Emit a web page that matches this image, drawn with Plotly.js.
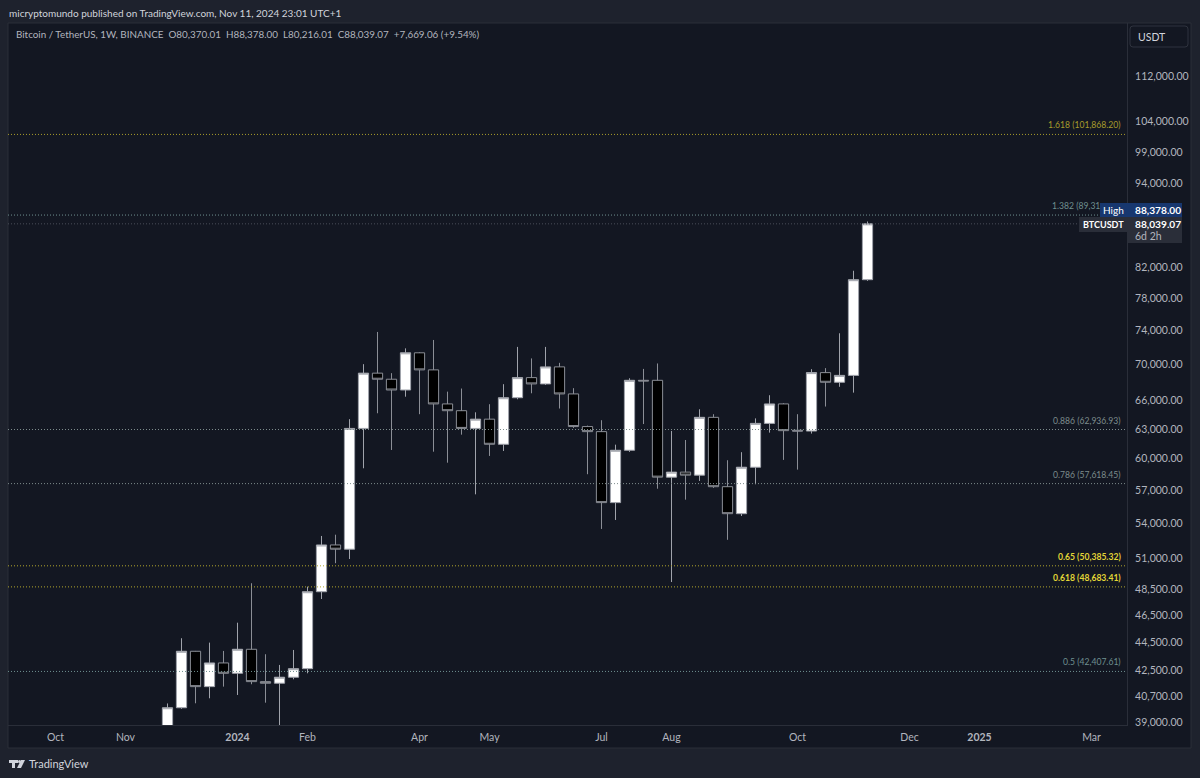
<!DOCTYPE html>
<html>
<head>
<meta charset="utf-8">
<script src="https://cdn.plot.ly/plotly-3.0.1.min.js"></script>
<style>html,body{margin:0;padding:0;background:#1e222d}</style>
</head>
<body>
<div id="chart" style="width:1200px;height:778px"></div>
<script>
// weekly candles
const dates = ['2023-11-27','2023-12-04','2023-12-11','2023-12-18','2023-12-25','2024-01-01','2024-01-08','2024-01-15','2024-01-22','2024-01-29',
  '2024-02-05','2024-02-12','2024-02-19','2024-02-26','2024-03-04','2024-03-11','2024-03-18','2024-03-25','2024-04-01','2024-04-08',
  '2024-04-15','2024-04-22','2024-04-29','2024-05-06','2024-05-13','2024-05-20','2024-05-27','2024-06-03','2024-06-10','2024-06-17',
  '2024-06-24','2024-07-01','2024-07-08','2024-07-15','2024-07-22','2024-07-29','2024-08-05','2024-08-12','2024-08-19','2024-08-26',
  '2024-09-02','2024-09-09','2024-09-16','2024-09-23','2024-09-30','2024-10-07','2024-10-14','2024-10-21','2024-10-28','2024-11-04','2024-11-11'];
const opens = [37450,39970,43827,41370,43000,42280,43970,41710,41600,42010,
  42600,48300,52130,51770,63050,69000,68320,67130,71330,69370,
  65620,64900,63050,64010,61440,66290,68500,67800,69710,66700,
  63240,62720,55860,60840,68200,68200,58230,58710,58420,64200,
  57330,54860,59180,63570,65620,62860,62780,69060,67980,68750,80370.01];
const highs = [40250,44770,43850,44450,43850,45920,48975,43615,42860,43920,
  48700,52900,53010,64010,70020,73800,69000,71850,71400,72840,
  66950,67290,64730,65590,67770,72020,70680,72020,70170,67330,
  63340,63900,61400,68430,69480,70100,62790,61870,65050,64530,
  59860,60650,64090,66560,65700,64530,69450,69570,73640,81550,88378];
const lows = [36800,39900,40260,40590,41370,40810,41530,40300,38500,41870,
  42280,47730,50600,50950,59080,64630,60870,66400,64530,60700,
  59620,62410,56620,60280,60770,66120,66770,67690,65130,63100,
  58510,53510,54300,60680,63500,57140,49070,56130,57870,57220,
  52570,54650,57560,62620,59890,58950,62520,65340,67480,66840,80216.01];
const closes = [39970,43827,41370,43000,42280,43970,41710,41600,42010,42600,
  48300,52130,51770,63050,69000,68320,67130,71330,69370,65620,
  64900,63050,64010,61440,66290,68500,67800,69710,66700,63240,
  62720,55860,60840,68200,68130,58230,58710,58420,64200,57330,
  54860,59180,63570,65620,62820,62780,69060,67980,68750,80370,88039.07];

// fib levels
const fibLevels = [101868.20, 89310, 62936.93, 57618.45, 50385.32, 48683.41, 42407.61];
const fibLabels = ['1.618 (101,868.20)', '1.382 (89,31', '0.886 (62,936.93)', '0.786 (57,618.45)', '<b>0.65 (50,385.32)</b>', '<b>0.618 (48,683.41)</b>', '0.5 (42,407.61)'];
const fibColors = ['#a89c2b', '#6f9090', '#7d8c8c', '#7d8c8c', '#e2d636', '#e2d636', '#6f9090'];
const fibLineColors = ['#a89c2b', '#6f9090', '#7d8c8c', '#7d8c8c', '#b0a52c', '#b0a52c', '#6f9090'];
const fibRight = [1123, 1102, 1123, 1123, 1123, 1123, 1123];

const priceTicks = [112000,104000,99000,94000,82000,78000,74000,70000,66000,63000,60000,57000,54000,51000,48500,46500,44500,42500,40700,39000];
const timeTicks = ['2023-10-02','2023-11-06','2024-01-01','2024-02-05','2024-04-01','2024-05-06','2024-07-01','2024-08-05','2024-10-07','2024-12-02','2025-01-06','2025-03-03'];
const timeLabels = ['Oct','Nov','<b>2024</b>','Feb','Apr','May','Jul','Aug','Oct','Dec','<b>2025</b>','Mar'];

const lastClose = 88039.07;
const xRange = ['2023-09-08 06:00', '2025-03-20 18:00'];

const FONT = 'Lato, "Noto Sans", sans-serif';
const L = 8, R = 1127, T = 23, B = 725;
const px = x => (x - L) / (R - L);
const py = y => (B - y) / (B - T);

function box(x0, y0, x1, y1, fill) {
  return {
    type: 'rect', xref: 'paper', yref: 'paper', layer: 'above',
    x0: px(x0), x1: px(x1), y0: py(y1), y1: py(y0),
    fillcolor: fill, line: { width: 0 }
  };
}

function label(x, y, text, size, color, anchor) {
  return {
    xref: 'paper', yref: 'paper', x: px(x), y: py(y), text: text,
    showarrow: false, xanchor: anchor || 'left', yanchor: 'middle',
    font: { family: FONT, size: size, color: color }, borderpad: 0
  };
}

const candles = {
  type: 'candlestick', x: dates, open: opens, high: highs, low: lows, close: closes,
  whiskerwidth: 0, hoverinfo: 'none',
  increasing: { fillcolor: '#ffffff', line: { color: '#a0a3ab', width: 1 } },
  decreasing: { fillcolor: '#000000', line: { color: '#8b8e96', width: 1 } }
};

const fibTraces = fibLevels.map((v, i) => ({
  type: 'scatter', mode: 'lines', x: xRange, y: [v, v], hoverinfo: 'none',
  line: { color: fibLineColors[i], width: 1, dash: '1px,2px' }
}));

const closeLine = {
  type: 'scatter', mode: 'lines', x: xRange, y: [lastClose, lastClose], hoverinfo: 'none',
  line: { color: '#4a4e58', width: 1, dash: '1px,2px' }
};

const fibNotes = fibLevels.map((v, i) => ({
  xref: 'paper', yref: 'y', x: px(fibRight[i]), y: Math.log10(v), yshift: 9,
  text: fibLabels[i], showarrow: false, xanchor: 'right', yanchor: 'middle',
  font: { family: FONT, size: 8.6, color: fibColors[i] }
}));

const layout = {
  width: 1200, height: 778,
  margin: { l: L, r: 1200 - R, t: T, b: 778 - B, pad: 0 },
  paper_bgcolor: '#1e222d', plot_bgcolor: '#131722',
  showlegend: false, boxgap: 0.27, boxgroupgap: 0,
  xaxis: {
    type: 'date', range: xRange, rangeslider: { visible: false },
    tickmode: 'array', tickvals: timeTicks, ticktext: timeLabels,
    ticks: '', showgrid: false, zeroline: false, showline: true, linecolor: '#2a2e39', linewidth: 1,
    tickfont: { family: FONT, size: 10.5, color: '#b2b5be' }, ticklabelstandoff: 2
  },
  yaxis: {
    type: 'log', side: 'right', range: [4.58949, 5.08701],
    tickmode: 'array', tickvals: priceTicks, ticktext: priceTicks.map(v => v.toLocaleString('en-US', { minimumFractionDigits: 2 })),
    ticks: '', showgrid: false, zeroline: false, showline: true, linecolor: '#2a2e39', linewidth: 1,
    tickfont: { family: FONT, size: 10.5, color: '#b2b5be' }, ticklabelstandoff: 5
  },
  shapes: [
    { type: 'rect', xref: 'paper', yref: 'paper', layer: 'below', x0: px(8), x1: px(1191), y0: py(748), y1: py(23), fillcolor: '#131722', line: { width: 1, color: '#2a2e39' } },
    // USDT button
    { type: 'path', xref: 'paper', yref: 'paper', layer: 'above', line: { width: 1, color: '#2f333e' },
      path: `M ${px(1133)} ${py(26)} L ${px(1185)} ${py(26)} Q ${px(1188)} ${py(26)} ${px(1188)} ${py(29)} L ${px(1188)} ${py(44)} Q ${px(1188)} ${py(47)} ${px(1185)} ${py(47)} L ${px(1133)} ${py(47)} Q ${px(1130)} ${py(47)} ${px(1130)} ${py(44)} L ${px(1130)} ${py(29)} Q ${px(1130)} ${py(26)} ${px(1133)} ${py(26)} Z` },
    box(1100, 203, 1127, 217, '#17376f'),
    box(1127, 203, 1182, 217, '#17376f'),
    box(1079, 217, 1127, 232, '#2a2e39'),
    box(1127, 217, 1182, 243, '#2a2e39'),
    // TradingView logo
    box(9, 760, 18, 763, '#d1d4dc'),
    box(12, 763, 15, 768, '#d1d4dc'),
    { type: 'circle', xref: 'paper', yref: 'paper', layer: 'above', x0: px(18), x1: px(21), y0: py(763), y1: py(760), fillcolor: '#d1d4dc', line: { width: 0 } },
    { type: 'path', xref: 'paper', yref: 'paper', layer: 'above', fillcolor: '#d1d4dc', line: { width: 0 },
      path: `M ${px(21)} ${py(760)} L ${px(25)} ${py(760)} L ${px(21)} ${py(768)} L ${px(17)} ${py(768)} Z` }
  ],
  annotations: [
    label(8, 12.5, 'micryptomundo published on TradingView.com, Nov 11, 2024 23:01 UTC+1', 10, '#d1d4dc'),
    label(15, 34.5, 'Bitcoin / TetherUS, 1W, BINANCE&#160;&#160;O80,370.01&#160;&#160;H88,378.00&#160;&#160;L80,216.01&#160;&#160;C88,039.07&#160;&#160;+7,669.06 (+9.54%)', 9.85, '#b2b5be'),
    label(1137, 37, 'USDT', 10.5, '#d1d4dc'),
    label(1113.5, 210, 'High', 10, '#ffffff', 'center'),
    label(1134, 210, '<b>88,378.00</b>', 10.2, '#ffffff'),
    label(1103, 224.5, '<b>BTCUSDT</b>', 9, '#ffffff', 'center'),
    label(1134, 224, '<b>88,039.07</b>', 10.2, '#ffffff'),
    label(1134, 236, '6d 2h', 10.5, '#b2b5be'),
    label(28, 763.5, 'TradingView', 11, '#d1d4dc'),
    ...fibNotes
  ]
};

Plotly.newPlot('chart', [...fibTraces, closeLine, candles], layout, { displayModeBar: false, staticPlot: true });
</script>
</body>
</html>
